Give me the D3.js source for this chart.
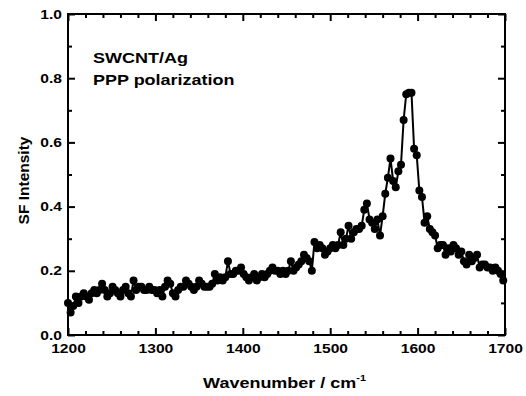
<!DOCTYPE html>
<html>
<head>
<meta charset="utf-8">
<script src="https://cdn.jsdelivr.net/npm/d3@7"></script>
<style>
  body { margin: 0; background: #fff; }
  svg text { font-family: Arial, 'Liberation Sans', sans-serif; font-weight: bold; fill: #000; }
</style>
</head>
<body>
<div class="graphic"></div>
<script>
// spectrum sampled every 3 cm-1 starting at 1200
const waveStart = 1200;
const waveStep = 3;
const intensity = [
  0.10, 0.07, 0.09, 0.12, 0.10, 0.12, 0.13, 0.12, 0.11, 0.13,
  0.14, 0.13, 0.14, 0.16, 0.14, 0.12, 0.13, 0.15, 0.14, 0.13,
  0.12, 0.14, 0.15, 0.13, 0.12, 0.17, 0.14, 0.15, 0.15, 0.14,
  0.14, 0.15, 0.14, 0.14,
  0.13, 0.14, 0.12, 0.15, 0.17, 0.16, 0.13, 0.12, 0.14, 0.15,
  0.15, 0.17, 0.16, 0.15, 0.14, 0.15, 0.17, 0.16, 0.15, 0.15,
  0.15, 0.16, 0.19, 0.17, 0.18, 0.17, 0.18, 0.23, 0.19, 0.19,
  0.20, 0.20, 0.21,
  0.19, 0.18, 0.17, 0.18, 0.19, 0.17, 0.18, 0.19, 0.18, 0.19,
  0.20, 0.21, 0.20, 0.20, 0.19, 0.20, 0.19, 0.20, 0.23, 0.20,
  0.21, 0.22, 0.23, 0.25, 0.24, 0.23, 0.20, 0.29, 0.27, 0.28,
  0.27, 0.25, 0.26,
  0.27, 0.28, 0.27, 0.28, 0.32, 0.28, 0.30, 0.34, 0.30, 0.32,
  0.33, 0.33, 0.34, 0.39, 0.41, 0.36, 0.35, 0.33, 0.36, 0.31,
  0.37, 0.44, 0.49, 0.55, 0.48, 0.46, 0.51, 0.53, 0.67, 0.75,
  0.755, 0.755, 0.58, 0.56,
  0.45, 0.43, 0.35, 0.37, 0.33, 0.32, 0.31, 0.27, 0.28, 0.28,
  0.25, 0.27, 0.26, 0.28, 0.27, 0.25, 0.26, 0.23, 0.22, 0.25,
  0.23, 0.24, 0.25, 0.21, 0.22, 0.22, 0.21, 0.21, 0.20, 0.21,
  0.20, 0.19, 0.17
];
const xMajor = [1200, 1300, 1400, 1500, 1600, 1700];
const yMajor = [0.0, 0.2, 0.4, 0.6, 0.8, 1.0];
const labelLines = ['SWCNT/Ag', 'PPP polarization'];

const width = 526, height = 396;
const margin = {top: 14, right: 21, bottom: 61, left: 68};
const w = width - margin.left - margin.right;
const h = height - margin.top - margin.bottom;
const stretch = 1.2; // the original figure is a bit wider than tall

const data = intensity.map((v, i) => ({x: waveStart + i * waveStep, y: v}));

const x = d3.scaleLinear().domain([1200, 1700]).range([0, w]);
const y = d3.scaleLinear().domain([0, 1]).range([h, 0]);

const xMinor = d3.range(1200, 1701, 20).filter(v => v % 100 !== 0);
const yMinor = [0.1, 0.3, 0.5, 0.7, 0.9];

const svg = d3.select('.graphic').append('svg')
  .attr('width', width)
  .attr('height', height);

const g = svg.append('g')
  .attr('transform', 'translate(' + margin.left + ',' + margin.top + ')');

// data line + markers
const line = d3.line().x(d => x(d.x)).y(d => y(d.y));
g.append('path')
  .datum(data)
  .attr('d', line)
  .attr('fill', 'none')
  .attr('stroke', '#000')
  .attr('stroke-width', 2);

g.selectAll('circle')
  .data(data)
  .enter().append('circle')
  .attr('cx', d => x(d.x))
  .attr('cy', d => y(d.y))
  .attr('r', 4)
  .attr('fill', '#000');

function styleAxis(sel) {
  sel.select('.domain').remove();
  sel.selectAll('line').attr('stroke', '#000').attr('stroke-width', 2);
  sel.selectAll('text').style('font-size', '13px');
}

// major ticks (inward) on all four sides
g.append('g').attr('transform', 'translate(0,' + h + ')')
  .call(d3.axisBottom(x).tickValues(xMajor).tickFormat(d3.format('d')).tickSize(-7).tickPadding(9))
  .call(styleAxis)
  .selectAll('text').attr('transform', 'scale(' + stretch + ',1)');
g.append('g')
  .call(d3.axisTop(x).tickValues(xMajor).tickFormat('').tickSize(-7))
  .call(styleAxis);
g.append('g')
  .call(d3.axisLeft(y).tickValues(yMajor).tickFormat(d3.format('.1f')).tickSize(-7).tickPadding(5))
  .call(styleAxis)
  .selectAll('text').attr('transform', 'scale(' + stretch + ',1)');
g.append('g').attr('transform', 'translate(' + w + ',0)')
  .call(d3.axisRight(y).tickValues(yMajor).tickFormat('').tickSize(-7))
  .call(styleAxis);

// minor ticks
g.append('g').attr('transform', 'translate(0,' + h + ')')
  .call(d3.axisBottom(x).tickValues(xMinor).tickFormat('').tickSize(-4))
  .call(styleAxis);
g.append('g')
  .call(d3.axisTop(x).tickValues(xMinor).tickFormat('').tickSize(-4))
  .call(styleAxis);
g.append('g')
  .call(d3.axisLeft(y).tickValues(yMinor).tickFormat('').tickSize(-4))
  .call(styleAxis);
g.append('g').attr('transform', 'translate(' + w + ',0)')
  .call(d3.axisRight(y).tickValues(yMinor).tickFormat('').tickSize(-4))
  .call(styleAxis);

// frame
g.append('rect')
  .attr('width', w)
  .attr('height', h)
  .attr('fill', 'none')
  .attr('stroke', '#000')
  .attr('stroke-width', 2);

// axis titles
const xt = svg.append('text')
  .attr('transform', 'translate(' + (margin.left + w / 2 - 2) + ',388) scale(' + stretch + ',1)')
  .attr('text-anchor', 'middle')
  .style('font-size', '15px');
xt.append('tspan').text('Wavenumber / cm');
xt.append('tspan').attr('dy', -7).style('font-size', '9px').text('-1');

svg.append('text')
  .attr('transform', 'translate(29,' + (margin.top + h / 2 + 6) + ') rotate(-90)')
  .attr('text-anchor', 'middle')
  .style('font-size', '15.5px')
  .text('SF Intensity');

// sample label
svg.selectAll('.note')
  .data(labelLines)
  .enter().append('text')
  .attr('class', 'note')
  .attr('transform', (d, i) => 'translate(93,' + (63 + i * 22) + ') scale(' + stretch + ',1)')
  .style('font-size', '15px')
  .text(d => d);
</script>
</body>
</html>
